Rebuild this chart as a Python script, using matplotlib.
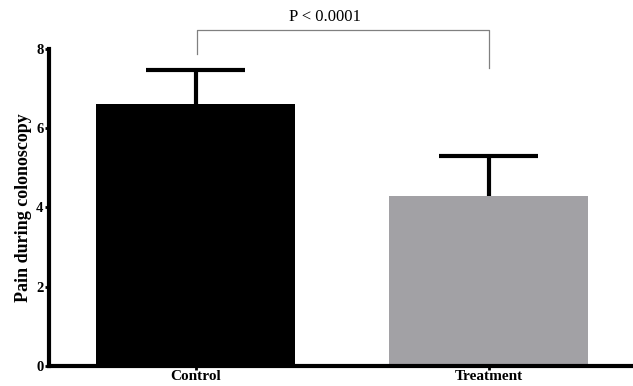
import matplotlib.pyplot as plt
import numpy as np

# Data
groups = ['Control', 'Treatment']
means = [6.6, 4.28]
errors = [0.85, 1.02]
colors = ['#000000', '#a2a1a5']
p_text = 'P < 0.0001'

plt.rcParams['font.family'] = ['Liberation Serif', 'DejaVu Serif']

fig = plt.figure(figsize=(6.33, 3.86), dpi=100)
ax = fig.add_axes([0.0774, 0.052, 0.926, 0.822])

x = np.arange(len(groups))
ax.bar(x, means, width=0.68, color=colors, zorder=2)

# upper error bars only
tops = np.array(means) + np.array(errors)
ax.vlines(x, means, tops, color='black', lw=3, zorder=1)
ax.hlines(tops, x - 0.17, x + 0.17, color='black', lw=3, zorder=1)

# significance bracket
ax.plot([0.005, 0.005, 1.0, 1.0], [7.87, 8.48, 8.48, 7.5], color='#808080',
        lw=0.9, clip_on=False)
ax.text(0.44, 8.6, p_text, ha='center', va='bottom', fontsize=12)

ax.set_xlim(-0.5, 1.5)
ax.set_ylim(0, 8)
ax.set_xticks(x)
ax.set_xticklabels(groups, fontweight='bold', fontsize=11)
ax.set_yticks([0, 2, 4, 6, 8])
ax.set_yticklabels(['0', '2', '4', '6', '8'], fontweight='bold', fontsize=10.5)
ax.set_ylabel('Pain during colonoscopy', fontweight='bold', fontsize=13, labelpad=3)

for s in ['top', 'right']:
    ax.spines[s].set_visible(False)
for s in ['left', 'bottom']:
    ax.spines[s].set_linewidth(3)
ax.tick_params(axis='both', width=2, length=3, pad=1)
ax.tick_params(axis='x', pad=0)

fig.savefig('out.png', dpi=100)
